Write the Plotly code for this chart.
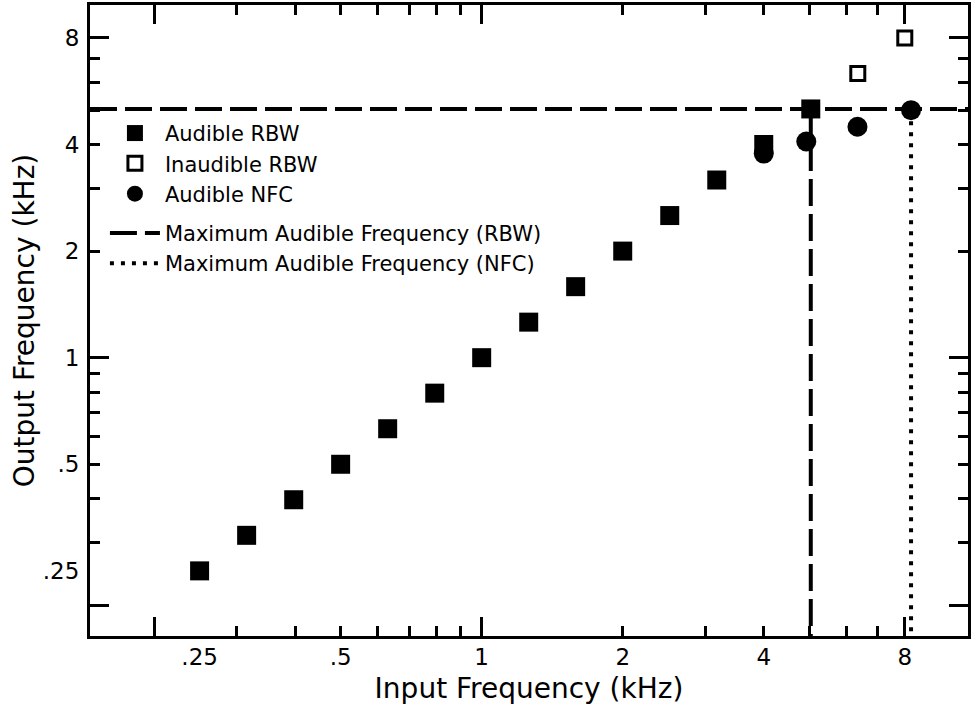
import plotly.graph_objects as go

# ---- data (kHz) ----
rbw_aud_in = [0.25, 0.315, 0.397, 0.5, 0.63, 0.794, 1.0, 1.26, 1.587, 2.0, 2.52, 3.175, 4.0, 5.04]
rbw_aud_out = [0.25, 0.315, 0.397, 0.5, 0.63, 0.794, 1.0, 1.26, 1.587, 2.0, 2.52, 3.175, 4.0, 5.04]
rbw_inaud_in = [6.35, 8.0]
rbw_inaud_out = [6.35, 8.0]
nfc_in = [4.0, 4.93, 6.34, 8.25]
nfc_out = [3.77, 4.08, 4.49, 5.0]
max_rbw = 5.04
max_nfc_in = 8.25
max_nfc_out = 5.0

tick_vals = [0.25, 0.5, 1, 2, 4, 8]
tick_text = [".25", ".5", "1", "2", "4", "8"]
minor_vals = [0.3, 0.4, 0.5, 0.6, 0.7, 0.8, 0.9, 2, 3, 4, 5, 6, 7]
major_vals = [0.2, 1, 8]

x_range_log = [-0.836, 1.038]
y_range_log = [-0.786, 0.996]
x_lo, x_hi = 10 ** x_range_log[0], 10 ** x_range_log[1]
y_lo, y_hi = 10 ** y_range_log[0], 10 ** y_range_log[1]

FONT = "DejaVu Sans"
fig = go.Figure()

fig.add_trace(go.Scatter(
    x=[x_lo, x_hi, None, max_rbw, max_rbw], y=[max_rbw, max_rbw, None, max_rbw, y_lo],
    mode="lines", line=dict(color="black", width=4, dash="27px,8px"),
    name="Maximum Audible Frequency (RBW)", legendgroup="b", legendrank=4))
fig.add_trace(go.Scatter(
    x=[max_nfc_in, max_nfc_in], y=[max_nfc_out, y_lo],
    mode="lines", line=dict(color="black", width=4, dash="4px,7px"),
    name="Maximum Audible Frequency (NFC)", legendgroup="b", legendrank=5))

fig.add_trace(go.Scatter(
    x=rbw_aud_in, y=rbw_aud_out, mode="markers", name="Audible RBW", legendgroup="a",
    legendrank=1,
    marker=dict(symbol="square", size=19, color="black", line=dict(width=0))))
fig.add_trace(go.Scatter(
    x=rbw_inaud_in, y=rbw_inaud_out, mode="markers", name="Inaudible RBW", legendgroup="a",
    legendrank=2,
    marker=dict(symbol="square-open", size=14, color="black", line=dict(width=3, color="black"))))
fig.add_trace(go.Scatter(
    x=nfc_in, y=nfc_out, mode="markers", name="Audible NFC", legendgroup="a",
    legendrank=3,
    marker=dict(symbol="circle", size=20, color="black", line=dict(width=0))))

# invisible trace to hold overlay axes (long ticks)
fig.add_trace(go.Scatter(x=[None], y=[None], xaxis="x2", yaxis="y2", showlegend=False,
                         hoverinfo="skip"))

axis_common = dict(
    type="log", showgrid=False, zeroline=False, showline=True, linewidth=3,
    linecolor="black", mirror="ticks", ticks="inside", ticklen=0, tickwidth=3,
    tickcolor="black", tickmode="array", tickfont=dict(family=FONT, size=23, color="black"),
    minor=dict(tickmode="array", tickvals=minor_vals, ticks="inside", ticklen=10,
               tickwidth=3, tickcolor="black", showgrid=False),
)
long_common = dict(
    type="log", showgrid=False, zeroline=False, showline=True, linewidth=3,
    linecolor="black", mirror="ticks", ticks="inside", ticklen=19, tickwidth=3,
    tickcolor="black", tickmode="array", tickvals=major_vals, showticklabels=False,
)

fig.update_layout(
    width=973, height=715,
    margin=dict(l=90, r=2, t=5, b=79),
    plot_bgcolor="white", paper_bgcolor="white",
    font=dict(family=FONT, color="black"),
    xaxis=dict(axis_common, range=x_range_log, tickvals=tick_vals, ticktext=tick_text,
               ticklabelstandoff=-2,
               title=dict(text="Input Frequency (kHz)", font=dict(family=FONT, size=28),
                          standoff=10)),
    yaxis=dict(axis_common, range=y_range_log, tickvals=tick_vals, ticktext=tick_text,
               ticklabelstandoff=3,
               title=dict(text="Output Frequency (kHz)", font=dict(family=FONT, size=28),
                          standoff=1)),
    xaxis2=dict(long_common, range=x_range_log, overlaying="x", anchor="y", side="bottom"),
    yaxis2=dict(long_common, range=y_range_log, overlaying="y", anchor="x", side="left"),
    showlegend=True,
    legend=dict(x=0.017, y=0.829, xanchor="left", yanchor="top", bgcolor="rgba(0,0,0,0)",
                font=dict(family=FONT, size=21, color="black"), traceorder="grouped",
                tracegroupgap=9, itemsizing="trace", itemwidth=50),
)

fig.write_html("out.html", config={"displayModeBar": False},
               post_script="document.body.style.margin='0px';")
